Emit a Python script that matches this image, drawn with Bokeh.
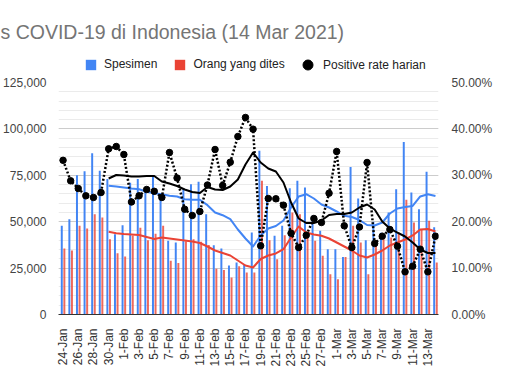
import math
import numpy as np
from bokeh.plotting import figure
from bokeh.layouts import column
from bokeh.models import (Range1d, LinearAxis, SingleIntervalTicker, FixedTicker,
                          NumeralTickFormatter, PrintfTickFormatter, Label, Legend,
                          LegendItem, ColumnDataSource)
from bokeh.transform import dodge
from bokeh.embed import file_html
from bokeh.resources import INLINE

title_text = "s COVID-19 di Indonesia (14 Mar 2021)"

dates = ["24-Jan", "25-Jan", "26-Jan", "27-Jan", "28-Jan", "29-Jan", "30-Jan", "31-Jan",
         "1-Feb", "2-Feb", "3-Feb", "4-Feb", "5-Feb", "6-Feb", "7-Feb", "8-Feb", "9-Feb",
         "10-Feb", "11-Feb", "12-Feb", "13-Feb", "14-Feb", "15-Feb", "16-Feb", "17-Feb",
         "18-Feb", "19-Feb", "20-Feb", "21-Feb", "22-Feb", "23-Feb", "24-Feb", "25-Feb",
         "26-Feb", "27-Feb", "28-Feb", "1-Mar", "2-Mar", "3-Mar", "4-Mar", "5-Mar",
         "6-Mar", "7-Mar", "8-Mar", "9-Mar", "10-Mar", "11-Mar", "12-Mar", "13-Mar", "14-Mar"]

spesimen = [47800, 51300, 75000, 77200, 86900, 77400, 73000, 43300, 48100, 71000,
            73000, 68000, 75000, 65000, 39700, 38800, 68000, 70200, 71500, 54000,
            37300, 35600, 26400, 28000, 27100, 44200, 88200, 69300, 42400, 47800,
            68000, 72000, 68400, 53200, 45100, 35200, 35200, 31000, 79500, 62500,
            40000, 50000, 44000, 55000, 67500, 93000, 65700, 56700, 76900, 47000]

orang_dites = [35500, 34500, 47800, 46300, 54000, 52300, 40600, 33000, 31300, 42500,
               46800, 40000, 43500, 47800, 29000, 27800, 39500, 40600, 39200, 37500,
               24600, 24000, 19900, 26000, 22600, 22600, 72000, 40000, 29800, 42700,
               55000, 54000, 43300, 39700, 31600, 21700, 19000, 31000, 47800, 38800,
               21700, 37000, 40600, 41500, 44200, 61800, 49600, 46000, 50500, 28000]

spesimen_ma7 = [None] * 6 + [
    69340, 68970, 68430, 67890, 67510, 66110, 65350, 64820, 63950, 63580,
    62120, 61800, 61800, 58900, 54960, 53500, 51350, 45800, 40950, 36640,
    42570, 46340, 47680, 50650, 57650, 63580, 64820, 62500, 59270, 57650,
    55500, 53180, 52530, 50920, 48220, 47950, 49570, 54420, 57110, 57920,
    58460, 63580, 64820, 63850]

orang_ma7 = [None] * 6 + [
    44560, 43800, 43370, 43100, 42830, 41760, 40680, 41490, 40950, 40410,
    39870, 39330, 38520, 36640, 34480, 33140, 31790, 29100, 26400, 25320,
    29900, 31790, 32870, 35180, 41490, 47410, 44180, 43100, 42400, 40950,
    38790, 36640, 34480, 31790, 30710, 32330, 34480, 37180, 38790, 40410,
    42570, 45800, 46070, 44720]

rate_harian = [33.23, 28.81, 27.16, 25.58, 25.22, 26.29, 35.71, 36.21, 34.48, 24.25,
               25.58, 26.94, 26.55, 25.22, 34.91, 29.42, 22.69, 21.34, 22.20, 27.91,
               35.56, 27.80, 32.82, 38.36, 42.46, 39.94, 14.81, 25.00, 24.94, 23.56,
               17.52, 14.44, 17.09, 20.69, 19.83, 26.14, 35.13, 19.12, 14.44, 18.86,
               32.76, 15.30, 16.88, 18.32, 14.72, 9.20, 10.41, 14.07, 9.20, 16.88]

rate_ma7 = [None] * 6 + [
    29.31, 30.06, 29.96, 29.74, 29.74, 29.85, 29.85, 28.66, 28.23, 27.69,
    26.94, 26.40, 26.19, 27.48, 26.94, 26.83, 27.59, 29.09, 32.33, 34.91,
    32.76, 31.47, 30.82, 28.45, 24.14, 20.69, 19.72, 19.72, 20.26, 21.44,
    21.66, 21.66, 21.98, 23.06, 23.71, 22.63, 20.04, 18.53, 17.67, 16.81,
    15.52, 14.01, 13.25, 13.25]

series_names = ["Spesimen", "Orang yang dites", "Positive rate harian"]
BLUE, RED, BLACK = "#4285F4", "#EA4335", "#000000"


def nanlist(a):
    return [np.nan if v is None else v for v in a]


day = list(range(len(dates)))
src = ColumnDataSource(dict(day=day, spesimen=spesimen, orang=orang_dites,
                            sma=nanlist(spesimen_ma7), oma=nanlist(orang_ma7),
                            rate=rate_harian, rma=nanlist(rate_ma7)))

FONT = "Liberation Sans"

# ---------------- header (title + legend) ----------------
TOP_H = 72
# ranges chosen far away from the data so the legend's renderers draw nothing here
h = figure(width=495, height=TOP_H, output_backend="svg", toolbar_location=None,
           title=None, x_axis_type=None, y_axis_type=None,
           x_range=Range1d(-1000, -900), y_range=Range1d(-1000, -900),
           min_border_left=0, min_border_right=0, min_border_top=0, min_border_bottom=0)
h.frame_align = False
h.grid.visible = False
h.outline_line_color = None
h.background_fill_color = "white"
h.border_fill_color = "white"

h.add_layout(Label(x=0, y=41, x_units="screen", y_units="screen",
                   text=title_text, text_font=FONT, text_font_size="19.5px",
                   text_color="#757575", text_baseline="middle"))

lb = h.vbar(x="day", top="spesimen", width=0.26, source=src, fill_color=BLUE, line_color=None)
lr = h.vbar(x="day", top="orang", width=0.26, source=src, fill_color=RED, line_color=None)
lk = h.scatter(x="day", y="rate", size=7, source=src, color=BLACK)

legend1 = Legend(items=[LegendItem(label=series_names[0], renderers=[lb]),
                        LegendItem(label=series_names[1], renderers=[lr])],
                 location=(84, 1), orientation="horizontal",
                 glyph_width=13, glyph_height=13, label_height=13, label_standoff=7,
                 spacing=16, padding=0, margin=0, border_line_color=None,
                 background_fill_alpha=0, label_text_font=FONT,
                 label_text_font_size="12px", label_text_color="#222222",
                 label_text_baseline="middle")
legend2 = Legend(items=[LegendItem(label=series_names[2], renderers=[lk])],
                 location=(295, -5), orientation="horizontal",
                 glyph_width=25, glyph_height=25, label_height=25, label_standoff=3,
                 spacing=0, padding=0, margin=0, border_line_color=None,
                 background_fill_alpha=0, label_text_font=FONT,
                 label_text_font_size="12px", label_text_color="#222222",
                 label_text_baseline="middle")
h.add_layout(legend1)
h.add_layout(legend2)

# ---------------- main chart ----------------
p = figure(width=495, height=299, output_backend="svg", toolbar_location=None,
           x_range=Range1d(-0.6, 49.4), y_range=Range1d(0, 125000),
           min_border_left=51, min_border_right=48, min_border_top=10, min_border_bottom=57)
p.frame_align = False
p.extra_y_ranges = {"pct": Range1d(0, 50)}
p.outline_line_color = None
p.background_fill_color = "white"
p.border_fill_color = "white"

p.xaxis.ticker = FixedTicker(ticks=day[::2])
p.xaxis.major_label_overrides = {i: dates[i] for i in day}
p.xaxis.major_label_orientation = math.pi / 2
p.xaxis.major_tick_line_color = None
p.xaxis.minor_tick_line_color = None
p.xaxis.axis_line_color = "#333333"
p.xaxis.major_label_text_font = FONT
p.xaxis.major_label_text_font_size = "12px"
p.xaxis.major_label_text_color = "#333333"
p.xaxis.major_label_standoff = 8

lt = SingleIntervalTicker(interval=25000, num_minor_ticks=5)
p.yaxis.ticker = lt
p.ygrid.ticker = lt
p.yaxis.formatter = NumeralTickFormatter(format="0,0")
p.yaxis.axis_line_color = None
p.yaxis.major_tick_line_color = None
p.yaxis.minor_tick_line_color = None
p.yaxis.major_label_text_font = FONT
p.yaxis.major_label_text_font_size = "12px"
p.yaxis.major_label_text_color = "#444444"
p.yaxis.major_label_standoff = 6

ra = LinearAxis(y_range_name="pct", ticker=SingleIntervalTicker(interval=10),
                formatter=PrintfTickFormatter(format="%.2f%%"))
ra.axis_line_color = None
ra.major_tick_line_color = None
ra.minor_tick_line_color = None
ra.major_label_text_font = FONT
ra.major_label_text_font_size = "12px"
ra.major_label_text_color = "#444444"
ra.major_label_standoff = 7
p.add_layout(ra, "right")

p.xgrid.grid_line_color = None
p.ygrid.grid_line_color = "#cccccc"
p.ygrid.minor_grid_line_color = "#ebebeb"

p.vbar(x=dodge("day", -0.17, range=p.x_range), width=0.26, top="spesimen",
       source=src, fill_color=BLUE, line_color=None)
p.vbar(x=dodge("day", 0.17, range=p.x_range), width=0.26, top="orang",
       source=src, fill_color=RED, line_color=None, fill_alpha=0.8)

p.line("day", "sma", source=src, line_color=BLUE, line_width=2, line_join="round")
p.line("day", "oma", source=src, line_color=RED, line_width=2, line_join="round")
p.line("day", "rma", source=src, line_color=BLACK, line_width=2, line_join="round",
       y_range_name="pct")

p.line("day", "rate", source=src, line_color=BLACK, line_width=2.5, line_dash="2 2",
       y_range_name="pct")
p.scatter("day", "rate", source=src, size=6.5, color=BLACK, y_range_name="pct")

layout = column(h, p, spacing=0)
open("out.html", "w").write(file_html(layout, INLINE))
